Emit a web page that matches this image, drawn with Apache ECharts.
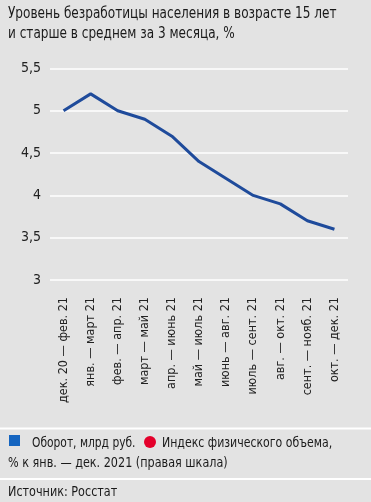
<!DOCTYPE html>
<html><head><meta charset="utf-8">
<script src="https://cdn.jsdelivr.net/npm/echarts@6/dist/echarts.min.js"></script>
<style>html,body{margin:0;padding:0;background:#e3e3e3;}#c{width:371px;height:502px;}</style>
</head><body><div id="c"></div>
<script>
var categories = ['дек. 20 — фев. 21','янв. — март 21','фев. — апр. 21','март — май 21','апр. — июнь 21','май — июль 21','июнь — авг. 21','июль — сент. 21','авг. — окт. 21','сент. — нояб. 21','окт. — дек. 21'];
var unemployment = [5.0, 5.2, 5.0, 4.9, 4.7, 4.4, 4.2, 4.0, 3.9, 3.7, 3.6];
var yTicks = {min: 3, max: 5.5, interval: 0.5};
var titleLines = ['Уровень безработицы населения в возрасте 15 лет', 'и старше в среднем за 3 месяца, %'];
var legendText1 = 'Оборот, млрд руб.';
var legendText2a = 'Индекс физического объема,';
var legendText2b = '% к янв. — дек. 2021 (правая шкала)';
var sourceText = 'Источник: Росстат';

var FONT = '"DejaVu Sans Condensed","Liberation Sans Narrow","Roboto",sans-serif';
var chart = echarts.init(document.getElementById('c'), null, {renderer: 'canvas'});
function txt(x, y, s, size, sx) {
  return {type: 'text', x: x, y: y, scaleX: sx, style: {text: s, font: size + 'px ' + FONT, fill: '#1a1a1a', lineHeight: 20}};
}
chart.setOption({
  backgroundColor: '#e3e3e3',
  animation: false,
  grid: {left: 50, right: 23, top: 68.5, bottom: 222},
  xAxis: {
    type: 'category', data: categories, boundaryGap: true,
    axisLine: {show: false}, axisTick: {show: false},
    axisLabel: {rotate: 90, interval: 0, margin: 17, fontSize: 12.5, color: '#222', fontFamily: FONT}
  },
  yAxis: {
    type: 'value', min: yTicks.min, max: yTicks.max, interval: yTicks.interval,
    axisLine: {show: false}, axisTick: {show: false},
    splitLine: {lineStyle: {color: '#ffffff', width: 1.5}},
    axisLabel: {fontSize: 14, color: '#222', fontFamily: FONT, margin: 9,
      formatter: function(v){ return String(v).replace('.', ','); }}
  },
  series: [{
    type: 'line', data: unemployment, symbol: 'none',
    lineStyle: {color: '#1f4b9b', width: 3}
  }],
  graphic: [
    txt(8, 4, titleLines.join('\n'), 16, 0.84),
    {type: 'rect', shape: {x: 0, y: 427.5, width: 371, height: 2}, style: {fill: '#ffffff'}},
    {type: 'rect', shape: {x: 9, y: 435, width: 11, height: 11}, style: {fill: '#1565c0'}},
    txt(32, 433, legendText1, 14.5, 0.82),
    {type: 'circle', shape: {cx: 150, cy: 442, r: 6}, style: {fill: '#e4002b'}},
    txt(162, 433, legendText2a, 14.5, 0.84),
    txt(8, 453, legendText2b, 14.5, 0.86),
    {type: 'rect', shape: {x: 0, y: 478, width: 371, height: 2}, style: {fill: '#ffffff'}},
    txt(8, 482, sourceText, 14.5, 0.86)
  ]
});
</script></body></html>
